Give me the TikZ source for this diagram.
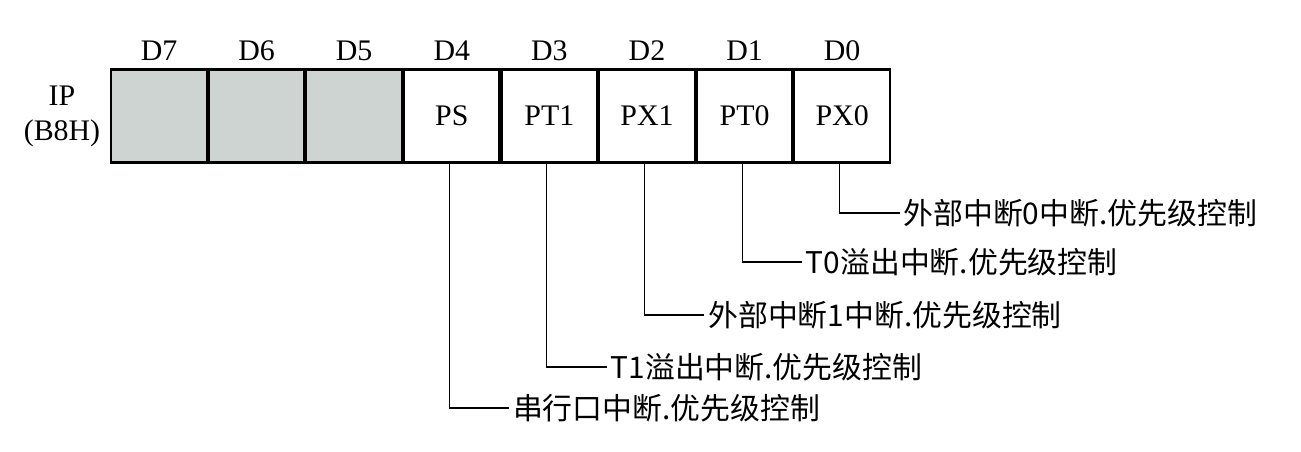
\documentclass[tikz,border=0pt]{standalone}
\usepackage{fontspec}
\setmainfont{Liberation Serif}
\newfontfamily\cjk{Noto Sans CJK SC}
\usetikzlibrary{positioning}
\definecolor{cellgrey}{RGB}{205,212,210}
\begin{document}
\begin{tikzpicture}[x=0.02cm,y=-0.02cm,
    cell/.style={draw,very thick,minimum width=1.91cm,minimum height=1.86cm,inner sep=0pt,font=\fontsize{17}{20}\selectfont},
    bitlab/.style={font=\fontsize{17}{20}\selectfont},
    note/.style={anchor=west,inner sep=2pt,font=\fontsize{17}{20}\selectfont},
    lead/.style={semithick}]
    \useasboundingbox (0,0) rectangle (1301,451);
    \node[cell,fill=cellgrey] (c7) at (159,116) {};
    \node[cell,fill=cellgrey,right=0pt of c7] (c6) {};
    \node[cell,fill=cellgrey,right=0pt of c6] (c5) {};
    \node[cell,right=0pt of c5] (c4) {PS};
    \node[cell,right=0pt of c4] (c3) {PT1};
    \node[cell,right=0pt of c3] (c2) {PX1};
    \node[cell,right=0pt of c2] (c1) {PT0};
    \node[cell,right=0pt of c1] (c0) {PX0};
    \foreach \i in {0,...,7}
        \node[bitlab,above=1pt of c\i] (d\i) {D\i};
    \node[bitlab,align=center] (ip) at (62,116) {IP\\(B8H)};
    % lead lines and notes
    \foreach \i/\y/\t in {4/408/串行口中断.优先级控制,3/367/T1溢出中断.优先级控制,
        2/315/外部中断1中断.优先级控制,1/262/T0溢出中断.优先级控制,0/213/外部中断0中断.优先级控制} {
        \coordinate (k\i) at ([xshift=-0.05cm]c\i.south |- 0,\y);
        \node[note] (n\i) at ([xshift=1.2cm]k\i) {\cjk\t};
        \draw[lead] ([xshift=-0.05cm]c\i.south) -- (k\i) -- (n\i.west);
    }
\end{tikzpicture}
\end{document}
